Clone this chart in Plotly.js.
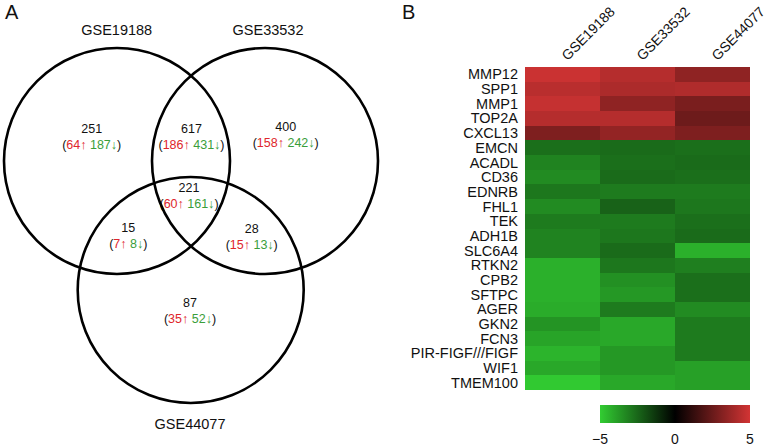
<!DOCTYPE html>
<html>
<head>
<meta charset="utf-8">
<script src="https://cdn.plot.ly/plotly-3.0.1.min.js"></script>
<style>html,body{margin:0;padding:0;background:#fff;}#chart{width:768px;height:448px;}</style>
</head>
<body>
<div id="chart"></div>
<script>
// ---- Venn data (panel A) ----
const vennSets = ["GSE19188", "GSE33532", "GSE44077"];
const regionNames = ["GSE19188 only", "GSE19188∩GSE33532", "GSE33532 only", "all three", "GSE19188∩GSE44077", "GSE33532∩GSE44077", "GSE44077 only"];
const regionTotal = [251, 617, 400, 221, 15, 28, 87];
const regionUp = [64, 186, 158, 60, 7, 15, 35];
const regionDown = [187, 431, 242, 161, 8, 13, 52];

// ---- Heatmap data (panel B) ----
const datasets = ["GSE19188", "GSE33532", "GSE44077"];
const genes = ["MMP12", "SPP1", "MMP1", "TOP2A", "CXCL13", "EMCN", "ACADL", "CD36", "EDNRB", "FHL1", "TEK", "ADH1B", "SLC6A4", "RTKN2", "CPB2", "SFTPC", "AGER", "GKN2", "FCN3", "PIR-FIGF///FIGF", "WIF1", "TMEM100"];
const logFC_GSE19188 = [4.8, 4.4, 4.7, 4.3, 3.0, -2.7, -3.2, -3.4, -2.9, -3.4, -3.0, -3.2, -3.2, -4.3, -4.3, -4.3, -4.2, -3.6, -4.0, -4.4, -4.1, -4.9];
const logFC_GSE33532 = [4.3, 4.1, 3.4, 4.3, 3.5, -2.6, -2.7, -2.6, -3.0, -2.4, -3.0, -2.9, -2.6, -2.9, -3.5, -3.7, -3.0, -4.1, -4.1, -3.7, -3.7, -4.1];
const logFC_GSE44077 = [3.4, 4.2, 2.9, 2.6, 3.0, -2.7, -2.6, -2.7, -3.0, -2.9, -2.7, -2.6, -4.3, -3.1, -2.7, -2.7, -3.4, -3.0, -3.0, -3.0, -3.9, -3.9];
const colorTicks = [-5, 0, 5];

// ---- layout helpers (pixel-like coordinates on hidden axis) ----
const circles = [
  {cx: 117, cy: 161, r: 113},
  {cx: 265, cy: 161, r: 113},
  {cx: 190.7, cy: 290, r: 113}
];
const setLabelPos = [[116.7, 31], [268, 31], [190, 425]];
const regionPos = [[91.7, 137.5], [191.5, 137.5], [285.7, 135.5], [189, 196.7], [128.3, 236.7], [251.7, 237.7], [190, 311.7]];

const RED = "#e0262b", GREEN = "#3a9e3a";
const regionText = regionTotal.map((t, i) =>
  t + "<br>(<span style='color:" + RED + "'>" + regionUp[i] + "↑</span> <span style='color:" + GREEN + "'>" + regionDown[i] + "↓</span>)");

const fontFam = "Liberation Sans, Arial, sans-serif";

const traces = [
  {
    type: "scatter", mode: "text", xaxis: "x", yaxis: "y",
    x: regionPos.map(p => p[0]), y: regionPos.map(p => p[1]),
    text: regionText, textposition: "middle center",
    textfont: {family: fontFam, size: 12.5, color: "#111"},
    hoverinfo: "skip", showlegend: false
  },
  {
    type: "scatter", mode: "text", xaxis: "x", yaxis: "y",
    x: setLabelPos.map(p => p[0]), y: setLabelPos.map(p => p[1]),
    text: vennSets, textposition: "middle center",
    textfont: {family: fontFam, size: 14.5, color: "#111"},
    hoverinfo: "skip", showlegend: false
  },
  {
    type: "heatmap", xaxis: "x2", yaxis: "y2",
    x: datasets, y: genes,
    z: genes.map((g, i) => [logFC_GSE19188[i], logFC_GSE33532[i], logFC_GSE44077[i]]),
    zmin: -5, zmax: 5,
    colorscale: [[0, "rgb(50,205,50)"], [0.5, "rgb(0,0,0)"], [1, "rgb(210,52,52)"]],
    hoverinfo: "skip",
    colorbar: {
      orientation: "h", x: 600 / 768, xanchor: "left", len: 150 / 768, lenmode: "fraction",
      y: (448 - 405) / 448, yanchor: "top", thickness: 18, outlinewidth: 0,
      xpad: 0, ypad: 0, tickvals: colorTicks, ticks: "outside", ticklen: 5, tickcolor: "rgba(0,0,0,0)",
      tickfont: {family: fontFam, size: 14, color: "#111"}
    }
  }
];

const shapes = circles.map(c => ({
  type: "circle", xref: "x", yref: "y",
  x0: c.cx - c.r, x1: c.cx + c.r, y0: c.cy - c.r, y1: c.cy + c.r,
  line: {color: "#000", width: 2.6}, fillcolor: "rgba(0,0,0,0)"
}));

const layout = {
  width: 768, height: 448,
  margin: {l: 0, r: 0, t: 0, b: 0},
  paper_bgcolor: "#fff", plot_bgcolor: "rgba(0,0,0,0)",
  showlegend: false,
  xaxis: {domain: [0, 400 / 768], range: [0, 400], visible: false, fixedrange: true},
  yaxis: {domain: [0, 1], range: [448, 0], visible: false, fixedrange: true},
  xaxis2: {
    domain: [525 / 768, 750 / 768], anchor: "y2", side: "top", type: "category",
    tickangle: -45, ticks: "", showgrid: false, zeroline: false, showline: false,
    tickfont: {family: fontFam, size: 14, color: "#111"}
  },
  yaxis2: {
    domain: [(448 - 390) / 448, (448 - 67) / 448], anchor: "x2", type: "category",
    autorange: "reversed", tickmode: "linear", dtick: 1, tick0: 0,
    ticks: "", ticklabelstandoff: 6, showgrid: false, zeroline: false, showline: false,
    tickfont: {family: fontFam, size: 14.5, color: "#111"}
  },
  shapes: shapes,
  annotations: [
    {text: "A", xref: "paper", yref: "paper", x: 12 / 768, y: 1 - 12 / 448, xanchor: "center", yanchor: "middle", showarrow: false, font: {family: fontFam, size: 20, color: "#111"}},
    {text: "B", xref: "paper", yref: "paper", x: 408 / 768, y: 1 - 12 / 448, xanchor: "center", yanchor: "middle", showarrow: false, font: {family: fontFam, size: 20, color: "#111"}}
  ]
};

Plotly.newPlot("chart", traces, layout, {staticPlot: true, displayModeBar: false});
</script>
</body>
</html>
